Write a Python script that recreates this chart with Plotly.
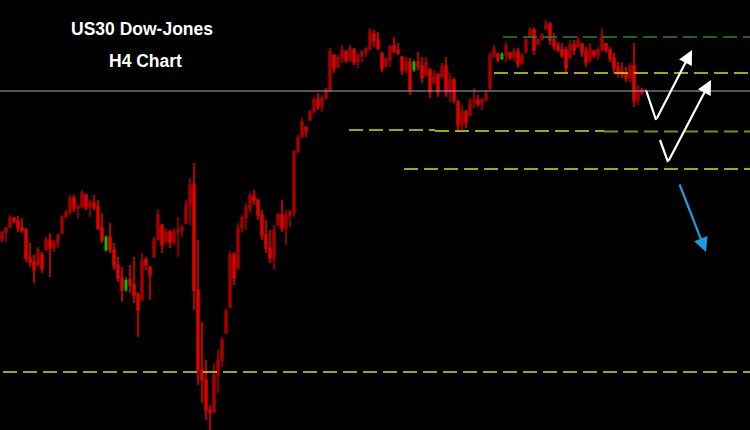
import plotly.graph_objects as go

# ---- H4 candles of US30 (prices) ----
open_ = [40600, 40760, 40860, 41040, 40980, 40840, 40800, 40240, 40160, 40100,
         40300, 40400, 40600, 40440, 40540, 40740, 41060, 41160, 41440, 41240,
         41260, 41500, 41260, 41340, 41260, 40840, 40400, 40660, 40400, 40100,
         39840, 39600, 39800, 39700, 39500, 39400, 40200, 40060, 40260, 40600,
         40900, 40560, 40760, 40560, 40760, 40800, 40940, 41300, 41700, 39600,
         38000, 37800, 37200, 37160, 37900, 38200, 38740, 39260, 40300, 40040,
         40840, 41040, 41240, 41480, 41400, 41100, 40700, 40440, 40240, 40900,
         41100, 40840, 41100, 41160, 42360, 42660, 42860, 43000, 43160, 43400,
         43280, 43440, 43600, 44300, 44060, 44240, 44360, 44200, 44400, 44160,
         44280, 44360, 44420, 44720, 44600, 44340, 44080, 44200, 44480, 44400,
         44260, 44000, 44160, 44000, 44160, 44080, 43900, 44000, 43740, 43900,
         43860, 44080, 43560, 43800, 43360, 42900, 43160, 43100, 43360, 43400,
         43320, 43400, 43640, 44280, 44320, 44220, 44300, 44340, 44260, 44360,
         44140, 44360, 44660, 44800, 44520, 44620, 44820, 44920, 44600, 44480,
         44400, 44400, 44240, 44500, 44460, 44520, 44360, 44200, 44380, 44300,
         44400, 44520, 44400, 44240, 44040, 43960, 43920, 43840, 44080, 43400,
         43600]
high = [40760, 40860, 41100, 41060, 41080, 41040, 40840, 40540, 40300, 40460,
        40360, 40660, 40740, 40600, 40740, 41100, 41200, 41500, 41500, 41300,
        41600, 41500, 41400, 41500, 41400, 41140, 40700, 40940, 40540, 40260,
        40060, 39860, 40100, 40260, 39560, 40340, 40260, 40060, 40660, 41220,
        40900, 40840, 40800, 40840, 41060, 40900, 41400, 41840, 42140, 40600,
        38960, 38200, 37300, 38140, 38400, 38660, 39240, 40400, 40360, 40940,
        41100, 41340, 41540, 41600, 41400, 41200, 41000, 40800, 40900, 41140,
        41400, 41200, 41200, 42400, 42700, 43040, 42860, 43200, 43460, 43540,
        43500, 43640, 44440, 44300, 44300, 44500, 44400, 44500, 44440, 44340,
        44400, 44460, 44840, 44800, 44760, 44340, 44260, 44500, 44660, 44540,
        44260, 44260, 44240, 44200, 44360, 44260, 44260, 44040, 44000, 43940,
        44140, 44260, 43940, 43840, 43400, 43300, 43200, 43440, 43640, 43500,
        43440, 43600, 44360, 44500, 44340, 44360, 44560, 44360, 44440, 44440,
        44340, 44660, 44860, 44840, 44640, 44740, 45000, 44960, 44740, 44560,
        44540, 44460, 44600, 44600, 44660, 44540, 44460, 44540, 44400, 44460,
        44840, 44540, 44460, 44340, 44160, 44140, 44060, 44140, 44540, 43700,
        43640]
low = [40560, 40560, 40860, 40940, 40760, 40740, 40160, 40060, 39740, 40100,
       39940, 40400, 39860, 40360, 40440, 40740, 41040, 41100, 41160, 41040,
       41260, 41200, 41060, 41200, 40800, 40540, 40360, 40340, 40000, 39760,
       39360, 39560, 39540, 39340, 38660, 39400, 40000, 39400, 40260, 40600,
       40340, 40560, 40440, 40500, 40260, 40660, 40940, 40900, 39200, 37700,
       37340, 37000, 36800, 37140, 37540, 38060, 38740, 39260, 39700, 40000,
       40760, 40800, 41140, 41300, 41000, 40600, 40340, 40140, 40000, 40900,
       40760, 40500, 40860, 41060, 42340, 42660, 42660, 43000, 43140, 43200,
       43160, 43400, 43560, 43940, 44060, 44140, 44140, 44160, 44100, 44040,
       44160, 44260, 44400, 44460, 44400, 43960, 44060, 44060, 44340, 44300,
       43900, 43940, 43500, 43960, 44000, 43740, 43900, 43440, 43740, 43460,
       43860, 43460, 43360, 43340, 42760, 42800, 42840, 43100, 43240, 43260,
       43200, 43400, 43600, 44240, 44160, 44200, 44160, 44200, 44160, 44040,
       44100, 44340, 44640, 44300, 44500, 44600, 44800, 44500, 44400, 44360,
       44240, 43960, 44240, 44300, 44440, 44260, 44060, 44140, 44240, 44200,
       44360, 44340, 44160, 43940, 43860, 43840, 43760, 43760, 43260, 43300,
       43500]
close = [40760, 40840, 41040, 40980, 40840, 40800, 40240, 40160, 40000, 40400,
         40040, 40600, 40440, 40540, 40680, 41060, 41160, 41440, 41240, 41260,
         41540, 41260, 41340, 41260, 40840, 40600, 40660, 40400, 40100, 39840,
         39600, 39800, 39700, 39500, 39200, 40200, 40100, 39900, 40600, 41100,
         40500, 40760, 40560, 40760, 40800, 40840, 41300, 41700, 39600, 38000,
         37800, 37200, 37160, 37900, 38200, 38600, 39160, 40300, 39840, 40840,
         41040, 41240, 41480, 41400, 41100, 40700, 40440, 40240, 40800, 41100,
         40840, 41100, 41160, 42360, 42640, 42960, 42800, 43160, 43400, 43280,
         43440, 43600, 44360, 44040, 44240, 44400, 44200, 44440, 44160, 44280,
         44360, 44420, 44760, 44600, 44440, 44040, 44200, 44480, 44400, 44340,
         44000, 44160, 43600, 44160, 44080, 43840, 44160, 43560, 43900, 43560,
         44080, 43560, 43800, 43400, 42900, 43160, 42960, 43360, 43400, 43320,
         43400, 43520, 44280, 44440, 44200, 44320, 44480, 44260, 44360, 44120,
         44280, 44600, 44800, 44400, 44600, 44700, 44920, 44600, 44480, 44400,
         44300, 44040, 44500, 44400, 44600, 44360, 44160, 44440, 44300, 44400,
         44700, 44400, 44240, 44040, 43960, 43920, 43840, 44080, 43400, 43600,
         43560]
green_bars = [26, 31, 103, 125]

# ---- horizontal levels (price, first bar, last bar) ----
level_prices = [44660, 43940, 42800, 42780, 42770, 42020, 37960]
level_from = [125.25, 123.0, 86.75, 108.25, 150.5, 100.5, 0.25]
level_to = [187.0, 187.0, 108.25, 150.5, 187.0, 187.0, 187.0]
level_colors = ["#1f8a1f", "#dede00", "#dede00", "#dede00", "#8c8c00", "#dede00", "#dede00"]
level_widths = [1.5, 1.3, 1.3, 1.3, 2.2, 1.3, 1.3]
bid_price = 43580

# ---- drawn scenario arrows (bar, price) ----
check1_x = [161.0, 163.5]
check1_y = [43600, 43000]
check1_tip = (172.5, 44400)
check2_x = [164.5, 166.5]
check2_y = [42600, 42160]
check2_tip = (177.25, 43800)
down_tail = (169.25, 41740)
down_tip = (176.0, 40360)

bars = list(range(len(close)))
red = [i for i in bars if i not in green_bars]


def pick(arr, idx):
    return [arr[i] for i in idx]


fig = go.Figure()
fig.add_trace(go.Candlestick(
    x=red, open=pick(open_, red), high=pick(high, red), low=pick(low, red), close=pick(close, red),
    increasing=dict(line=dict(color="#a00000", width=1.6), fillcolor="#c00000"),
    decreasing=dict(line=dict(color="#dc0000", width=1.6), fillcolor="#e60000"),
    whiskerwidth=0, showlegend=False, hoverinfo="skip"))
fig.add_trace(go.Candlestick(
    x=green_bars, open=pick(open_, green_bars), high=pick(high, green_bars),
    low=pick(low, green_bars), close=pick(close, green_bars),
    increasing=dict(line=dict(color="#00c000", width=1), fillcolor="#00c000"),
    decreasing=dict(line=dict(color="#00c000", width=1), fillcolor="#00c000"),
    whiskerwidth=0, showlegend=False, hoverinfo="skip"))

for p, a, b, c, w in zip(level_prices, level_from, level_to, level_colors, level_widths):
    fig.add_shape(type="line", x0=a, x1=b, y0=p, y1=p, xref="x", yref="y",
                  line=dict(color=c, width=w, dash="14px,6px"))
fig.add_shape(type="line", x0=0, x1=1, xref="paper", y0=bid_price, y1=bid_price, yref="y",
              line=dict(color="#a4a8b4", width=1))

for xs, ys, tip, col in [(check1_x, check1_y, check1_tip, "white"),
                         (check2_x, check2_y, check2_tip, "white")]:
    fig.add_trace(go.Scatter(x=xs, y=ys, mode="lines", line=dict(color=col, width=2.2),
                             showlegend=False, hoverinfo="skip"))
    fig.add_annotation(x=tip[0], y=tip[1], ax=xs[-1], ay=ys[-1], xref="x", yref="y",
                       axref="x", ayref="y", showarrow=True, arrowhead=2, arrowsize=1.3,
                       arrowwidth=2.2, arrowcolor=col, text="")
fig.add_annotation(x=down_tip[0], y=down_tip[1], ax=down_tail[0], ay=down_tail[1],
                   xref="x", yref="y", axref="x", ayref="y", showarrow=True, arrowhead=2,
                   arrowsize=1.3, arrowwidth=2.2, arrowcolor="#1e9be0", text="")

fig.add_annotation(x=142 / 750, y=1 - 29 / 430, xref="paper", yref="paper", showarrow=False,
                   xanchor="center", yanchor="middle",
                   text="<b>US30 Dow-Jones</b>",
                   font=dict(family="Liberation Sans, Arial", size=17.5, color="white"))
fig.add_annotation(x=145 / 750, y=1 - 61 / 430, xref="paper", yref="paper", showarrow=False,
                   xanchor="center", yanchor="middle",
                   text="<b>H4 Chart</b>",
                   font=dict(family="Liberation Sans, Arial", size=17.5, color="white"))

fig.update_layout(
    width=750, height=430, margin=dict(l=0, r=0, t=0, b=0),
    paper_bgcolor="black", plot_bgcolor="black",
    xaxis=dict(visible=False, range=[-0.5, 187], rangeslider=dict(visible=False)),
    yaxis=dict(visible=False, range=[36800, 45400]),
    showlegend=False,
)
fig.write_html("out.html", config={"displayModeBar": False},
               post_script="document.body.style.margin='0';document.body.style.background='black';")
